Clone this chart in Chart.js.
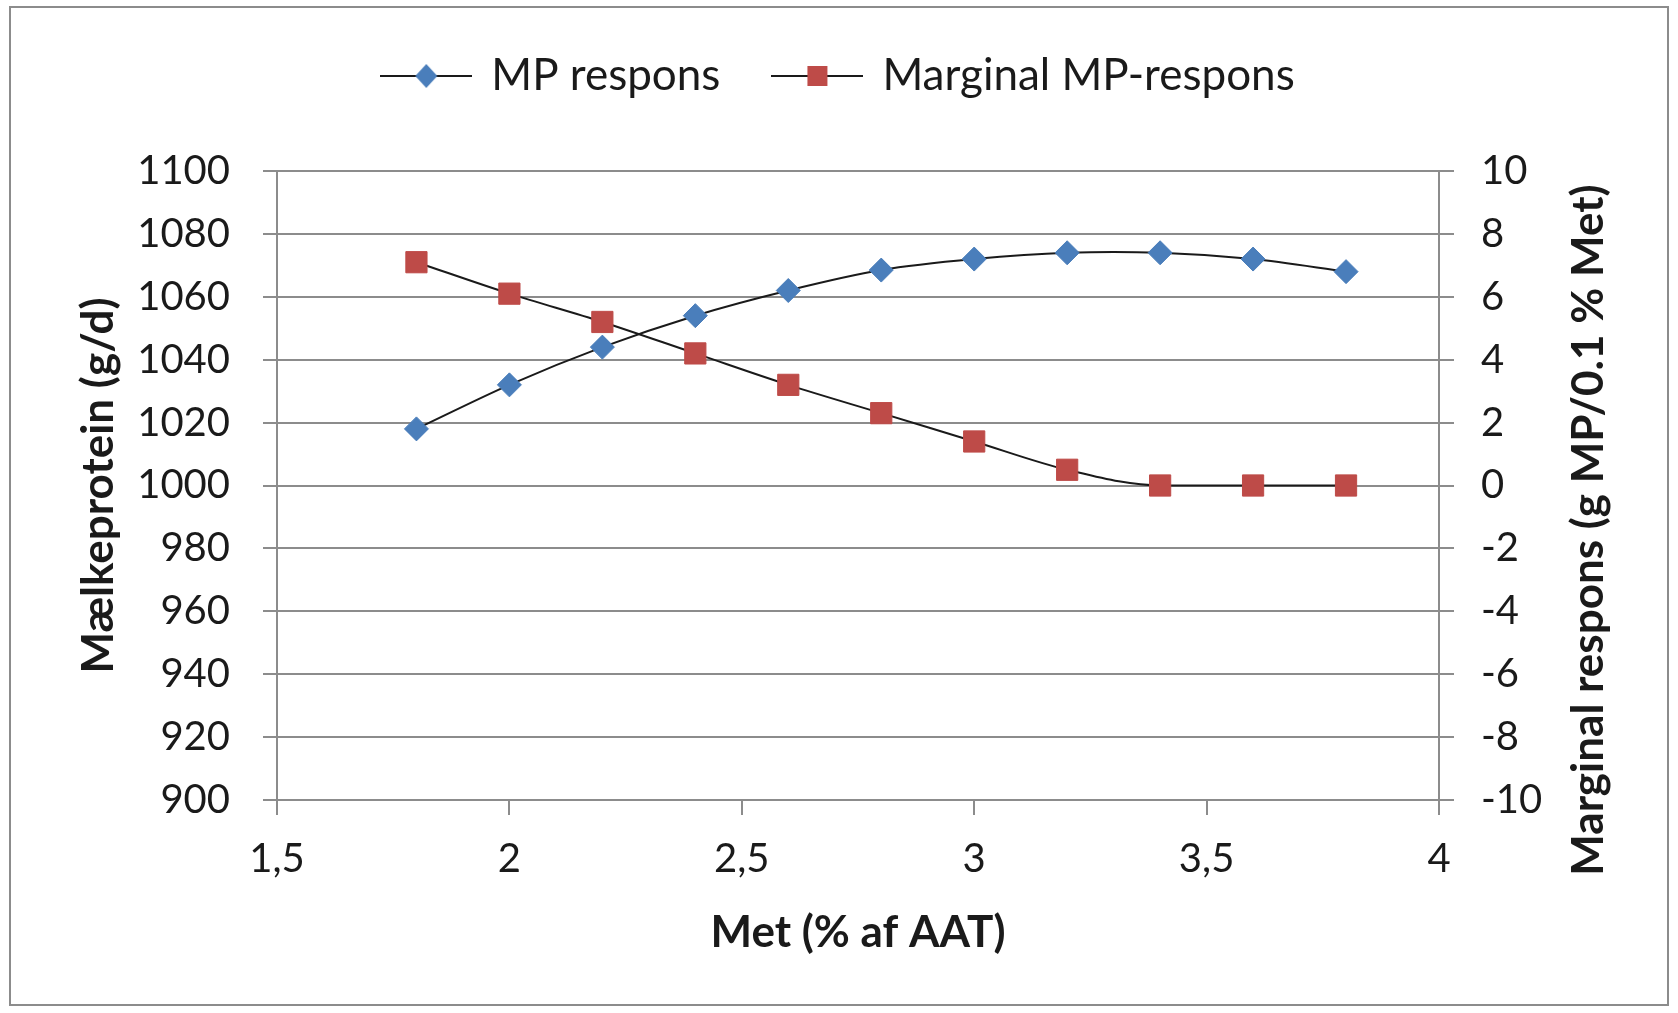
<!DOCTYPE html>
<html>
<head>
<meta charset="utf-8">
<script src="https://cdn.jsdelivr.net/npm/chart.js@4.4.1/dist/chart.umd.min.js"></script>
<style>
  html, body { margin: 0; padding: 0; background: #fff; }
  #wrap { width: 1678px; height: 1013px; }
</style>
</head>
<body>
<div id="wrap"><canvas id="chart" width="1678" height="1013"></canvas></div>
<script>
// data
const met = [1.8, 2.0, 2.2, 2.4, 2.6, 2.8, 3.0, 3.2, 3.4, 3.6, 3.8];
const mpRespons = [1018, 1032, 1044, 1054, 1062, 1068.5, 1072, 1074, 1074, 1072, 1068];
const marginalRespons = [7.1, 6.1, 5.2, 4.2, 3.2, 2.3, 1.4, 0.5, 0, 0, 0];

const seriesNames = ['MP respons', 'Marginal MP-respons'];
const xRange = [1.5, 4, 0.5];
const leftRange = [900, 1100, 20];
const rightRange = [-10, 10, 2];
const xTitle = 'Met (% af AAT)';
const leftTitle = 'Mælkeprotein (g/d)';
const rightTitle = 'Marginal respons (g MP/0.1 % Met)';

const BLUE = '#4a7ebb';
const RED = '#be4b48';
const GRID = '#8c8c8c';
const TEXT = '#1a1a1a';
const FONT = 'Lato';
const TITLE_SIZE = 44;

// legend icon: line with marker through it
function legendIcon(shape, color) {
  const c = document.createElement('canvas');
  c.width = 92; c.height = 30;
  const g = c.getContext('2d');
  g.strokeStyle = TEXT; g.lineWidth = 2;
  g.beginPath(); g.moveTo(0, 15); g.lineTo(92, 15); g.stroke();
  g.fillStyle = color;
  g.beginPath();
  if (shape === 'diamond') {
    g.moveTo(46, 3); g.lineTo(57, 15); g.lineTo(46, 27); g.lineTo(35, 15);
  } else {
    g.rect(36, 5, 20, 20);
  }
  g.closePath(); g.fill();
  return c;
}
const icons = [legendIcon('diamond', BLUE), legendIcon('square', RED)];

const commaTick = (v) => String(v).replace('.', ',');
const plainTick = (v) => String(v);

const frame = {
  id: 'frame',
  beforeUpdate(chart) {
    const lg = chart.legend;
    if (lg && !lg._patched) {
      const fit = lg.fit;
      lg.fit = function () { fit.call(this); this.height = 171; };
      lg._patched = true;
    }
  },
  beforeDraw(chart) {
    const ctx = chart.ctx;
    ctx.save();
    ctx.fillStyle = '#fff';
    ctx.fillRect(0, 0, chart.width, chart.height);
    ctx.strokeStyle = GRID;
    ctx.lineWidth = 2;
    ctx.strokeRect(10, 7, 1658, 998);
    ctx.restore();
  },
  afterDraw(chart) {
    // right title reads bottom-to-top like the original
    const ctx = chart.ctx;
    ctx.save();
    ctx.translate(1589, 530);
    ctx.rotate(-Math.PI / 2);
    ctx.font = 'bold ' + TITLE_SIZE + 'px ' + FONT;
    ctx.fillStyle = TEXT;
    ctx.textAlign = 'center';
    ctx.textBaseline = 'middle';
    ctx.fillText(rightTitle, 0, 0);
    ctx.restore();
  }
};

new Chart(document.getElementById('chart'), {
  type: 'line',
  data: {
    datasets: [
      {
        label: seriesNames[0],
        data: met.map((x, i) => ({ x, y: mpRespons[i] })),
        yAxisID: 'y',
        borderColor: TEXT,
        borderWidth: 2,
        tension: 0.3,
        pointStyle: 'rectRot',
        pointRadius: 12,
        pointBackgroundColor: BLUE,
        pointBorderColor: BLUE,
        pointBorderWidth: 1,
      },
      {
        label: seriesNames[1],
        data: met.map((x, i) => ({ x, y: marginalRespons[i] })),
        yAxisID: 'y1',
        borderColor: TEXT,
        borderWidth: 2,
        cubicInterpolationMode: 'monotone',
        pointStyle: 'rect',
        pointRadius: 15,
        pointBackgroundColor: RED,
        pointBorderColor: RED,
        pointBorderWidth: 1,
      },
    ],
  },
  options: {
    responsive: false,
    animation: false,
    devicePixelRatio: 1,
    layout: { padding: 0 },
    plugins: {
      tooltip: { enabled: false },
      legend: {
        position: 'top',
        labels: {
          usePointStyle: true,
          pointStyleWidth: 86,
          padding: 54,
          color: TEXT,
          font: { family: FONT, size: 44 },
          generateLabels: (chart) => chart.data.datasets.map((ds, i) => ({
            text: ds.label,
            datasetIndex: i,
            pointStyle: icons[i],
            fillStyle: 'transparent',
            strokeStyle: 'transparent',
            lineWidth: 0,
            fontColor: TEXT,
            hidden: false,
          })),
        },
      },
    },
    scales: {
      x: {
        type: 'linear',
        min: xRange[0],
        max: xRange[1],
        afterFit: (s) => { s.height = 213; },
        ticks: {
          stepSize: xRange[2],
          callback: commaTick,
          color: TEXT,
          padding: 20,
          maxRotation: 0,
          font: { family: FONT, size: 40 },
        },
        grid: { drawOnChartArea: false, tickLength: 15, color: GRID, lineWidth: 2 },
        border: { display: true, color: GRID, width: 2 },
        title: {
          display: true,
          text: xTitle,
          color: TEXT,
          font: { family: FONT, size: TITLE_SIZE, weight: 'bold' },
          padding: { top: 0, bottom: 54 },
        },
      },
      y: {
        position: 'left',
        min: leftRange[0],
        max: leftRange[1],
        afterFit: (s) => { s.width = 277; },
        ticks: {
          stepSize: leftRange[2],
          callback: plainTick,
          color: TEXT,
          padding: 33,
          font: { family: FONT, size: 40 },
        },
        grid: { color: GRID, lineWidth: 2, tickLength: 14 },
        border: { display: true, color: GRID, width: 2 },
        title: {
          display: true,
          text: leftTitle,
          color: TEXT,
          font: { family: FONT, size: TITLE_SIZE, weight: 'bold' },
          padding: { top: 72, bottom: 0 },
        },
      },
      y1: {
        position: 'right',
        min: rightRange[0],
        max: rightRange[1],
        afterFit: (s) => { s.width = 239; },
        ticks: {
          stepSize: rightRange[2],
          callback: plainTick,
          color: TEXT,
          padding: 27,
          font: { family: FONT, size: 40 },
        },
        grid: { drawOnChartArea: false, color: GRID, lineWidth: 2, tickLength: 15 },
        border: { display: true, color: GRID, width: 2 },
      },
    },
  },
  plugins: [frame],
});
</script>
</body>
</html>
